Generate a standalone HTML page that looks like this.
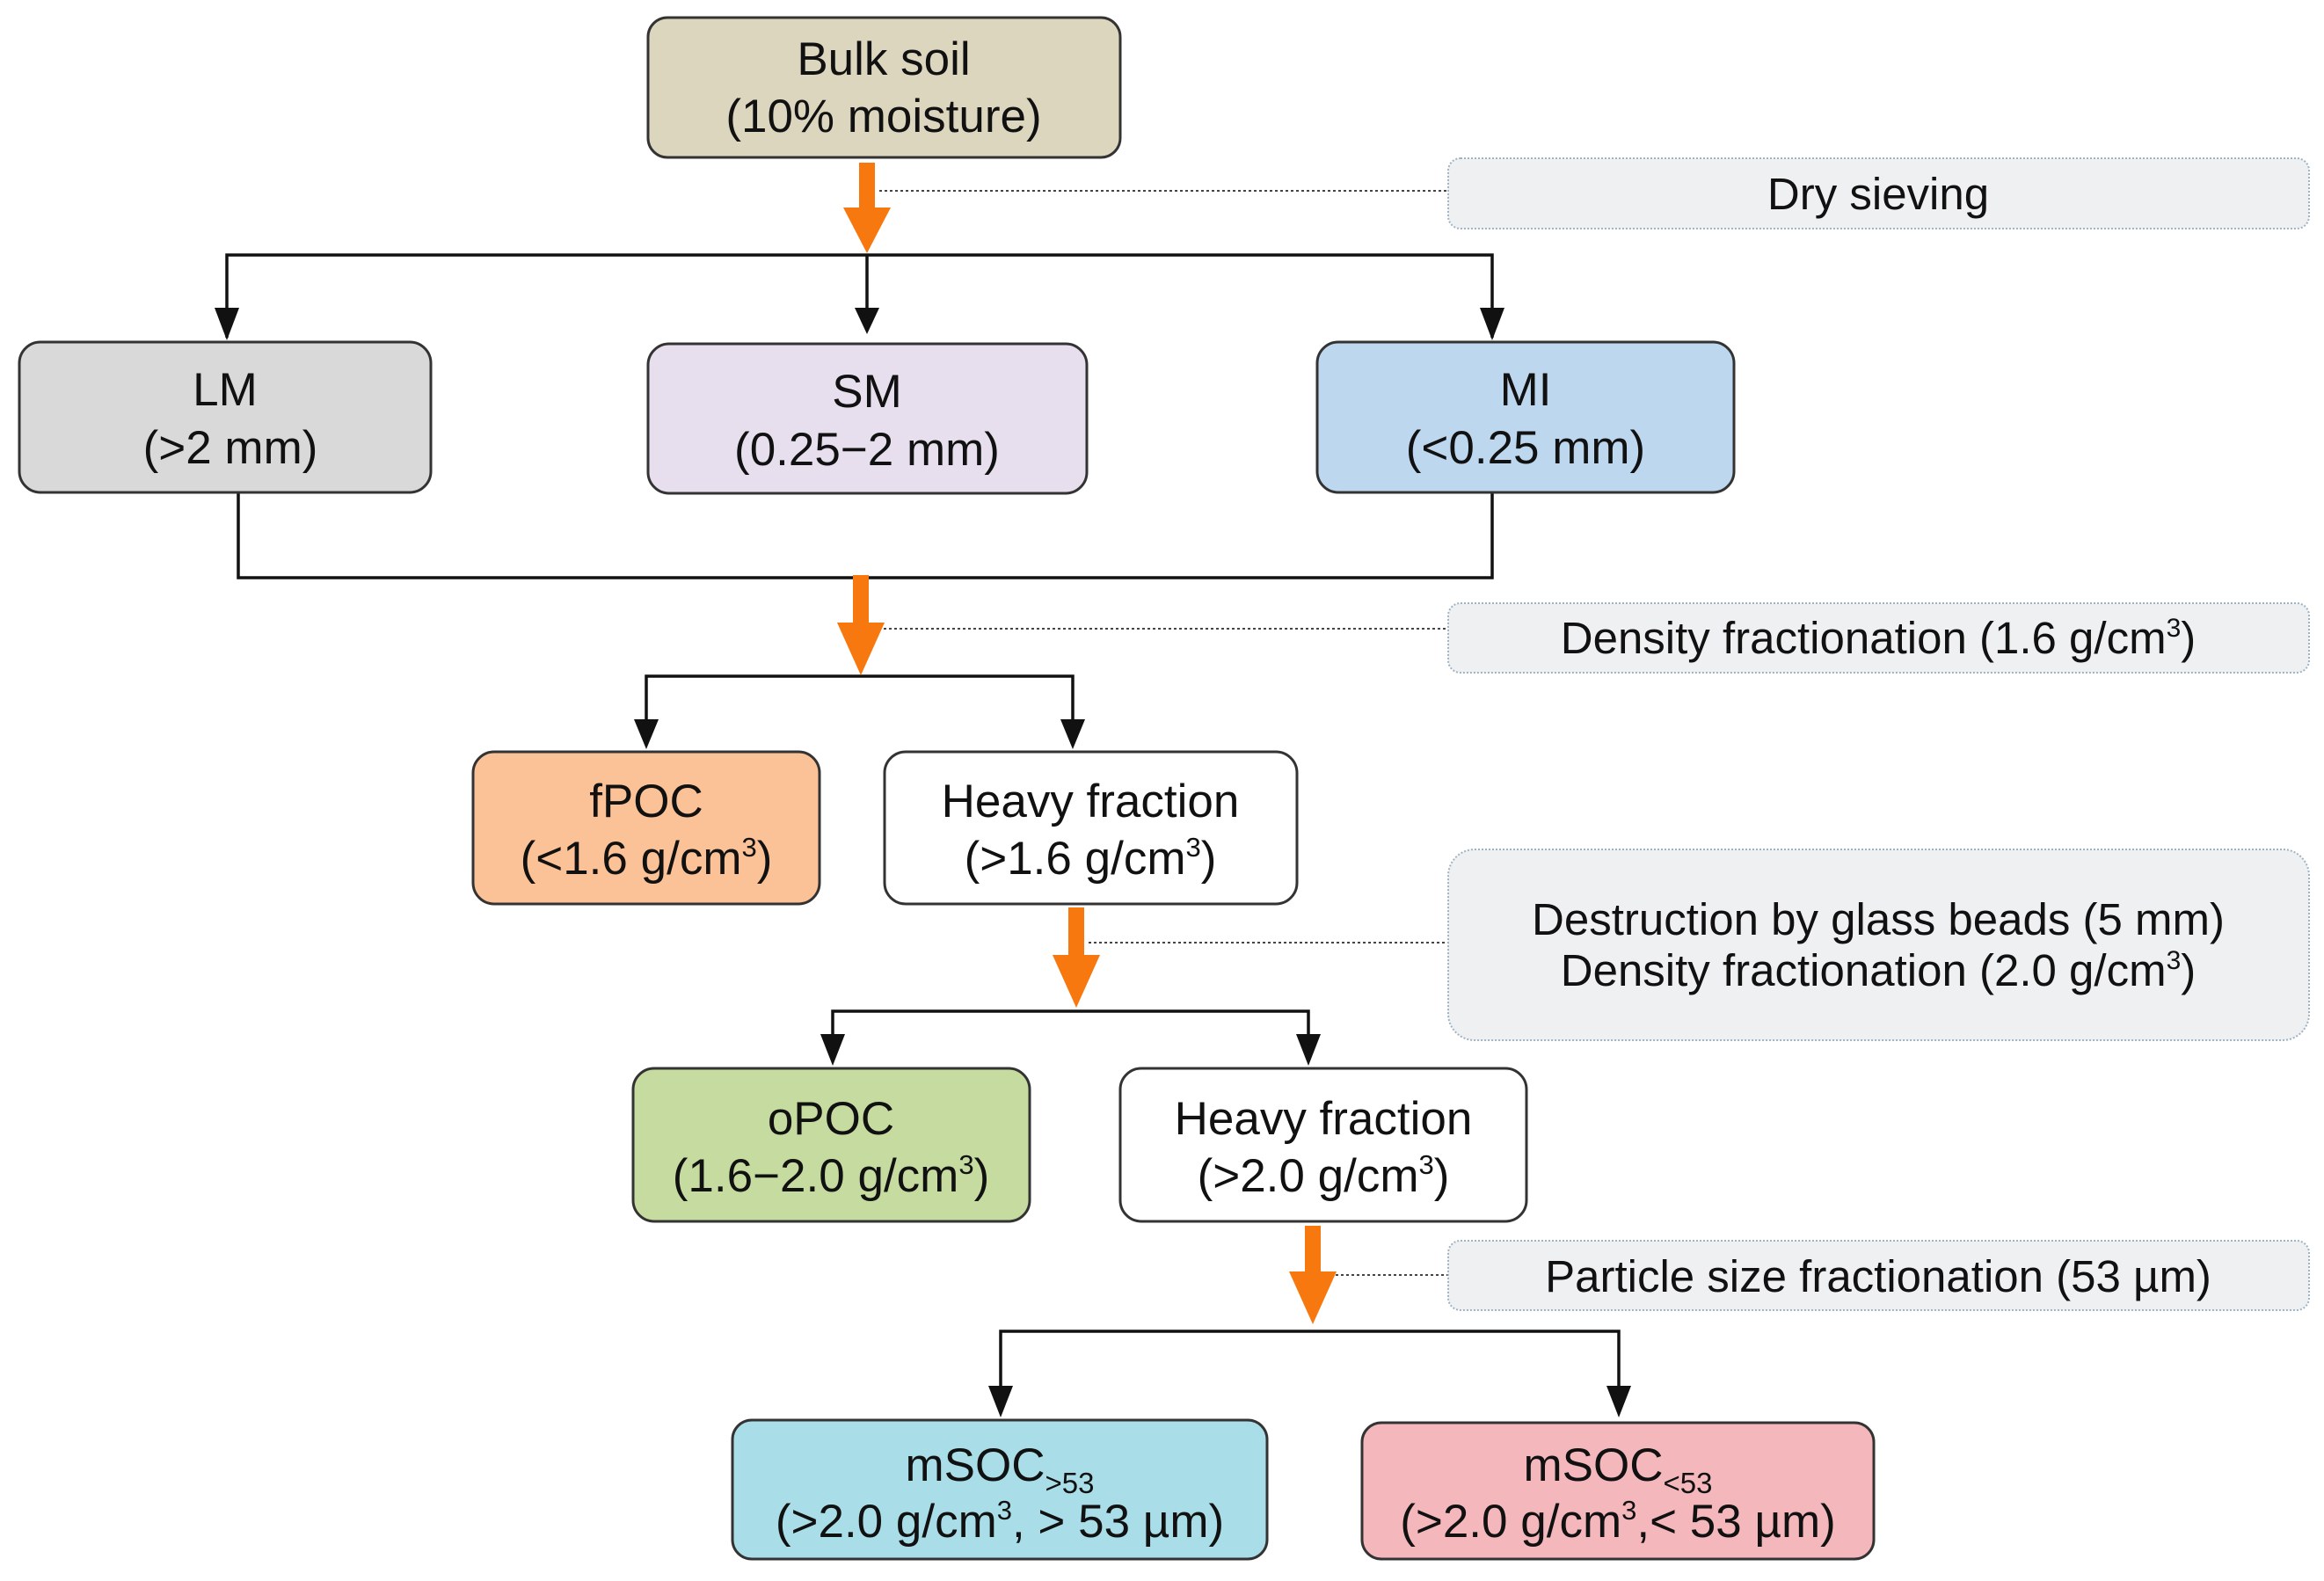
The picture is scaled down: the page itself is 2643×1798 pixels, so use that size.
<!DOCTYPE html>
<html><head><meta charset="utf-8"><style>
html,body{margin:0;padding:0;background:#fff;}
svg{display:block;}
text{font-family:"Liberation Sans",Arial,sans-serif;fill:#111;}
</style></head><body>
<svg width="2643" height="1798" viewBox="0 0 2643 1798" xmlns="http://www.w3.org/2000/svg">
<g stroke="#111" stroke-width="3.5" fill="none">
<polyline points="258,384 258,290 1697,290 1697,384"/>
<line x1="986" y1="290" x2="986" y2="375"/>
<polyline points="271,560 271,657 1697,657 1697,560"/>
<polyline points="735,845 735,769 1220,769 1220,845"/>
<polyline points="947,1205 947,1150 1488,1150 1488,1205"/>
<polyline points="1138,1605 1138,1514 1841,1514 1841,1605"/>
</g>
<g fill="#111">
<polygon points="244,350 272,350 258,387"/>
<polygon points="972,350 1000,350 986,380"/>
<polygon points="1683,350 1711,350 1697,387"/>
<polygon points="721,818 749,818 735,852"/>
<polygon points="1206,818 1234,818 1220,852"/>
<polygon points="933,1176 961,1176 947,1212"/>
<polygon points="1474,1176 1502,1176 1488,1212"/>
<polygon points="1124,1576 1152,1576 1138,1612"/>
<polygon points="1827,1576 1855,1576 1841,1612"/>
</g>
<g stroke="#444" stroke-width="2" stroke-dasharray="3,3">
<line x1="1000" y1="217" x2="1647" y2="217"/>
<line x1="993" y1="715" x2="1647" y2="715"/>
<line x1="1238" y1="1072" x2="1647" y2="1072"/>
<line x1="1507" y1="1450" x2="1647" y2="1450"/>
</g>
<g fill="#f7780f">
<rect x="977" y="185" width="18" height="60"/><polygon points="959,236 1013,236 986,288"/>
<rect x="970" y="654" width="18" height="62"/><polygon points="952,708 1006,708 979,768"/>
<rect x="1215" y="1032" width="18" height="60"/><polygon points="1197,1086 1251,1086 1224,1146"/>
<rect x="1484" y="1394" width="18" height="58"/><polygon points="1466,1446 1520,1446 1493,1506"/>
</g>
<g fill="#eef0f2" stroke="#9fb3c3" stroke-width="2" stroke-dasharray="2,2">
<rect x="1647" y="180" width="979" height="80" rx="14"/>
<rect x="1647" y="686" width="979" height="79" rx="14"/>
<rect x="1647" y="966" width="979" height="217" rx="30"/>
<rect x="1647" y="1411" width="979" height="79" rx="14"/>
</g>
<g font-size="51" text-anchor="middle">
<text x="2136" y="238">Dry sieving</text>
<text x="2136" y="743">Density fractionation (1.6 g/cm<tspan font-size="30" dy="-19">3</tspan><tspan dy="19">)</tspan></text>
<text x="2136" y="1063">Destruction by glass beads (5 mm)</text>
<text x="2136" y="1121">Density fractionation (2.0 g/cm<tspan font-size="30" dy="-19">3</tspan><tspan dy="19">)</tspan></text>
<text x="2136" y="1469">Particle size fractionation (53 µm)</text>
</g>
<g stroke="#333" stroke-width="3">
<rect x="737" y="20" width="537" height="159" rx="22" fill="#dcd6bf"/>
<rect x="22" y="389" width="468" height="171" rx="24" fill="#d9d9d9"/>
<rect x="737" y="391" width="499" height="170" rx="24" fill="#e7dfee"/>
<rect x="1498" y="389" width="474" height="171" rx="24" fill="#bdd7ee"/>
<rect x="538" y="855" width="394" height="173" rx="24" fill="#fcc297"/>
<rect x="1006" y="855" width="469" height="173" rx="24" fill="#ffffff"/>
<rect x="720" y="1215" width="451" height="174" rx="24" fill="#c5dba0"/>
<rect x="1274" y="1215" width="462" height="174" rx="24" fill="#ffffff"/>
<rect x="833" y="1615" width="608" height="158" rx="22" fill="#a9dde8"/>
<rect x="1549" y="1618" width="582" height="155" rx="22" fill="#f4b8bc"/>
</g>
<g font-size="53" text-anchor="middle">
<text x="1005" y="85">Bulk soil</text>
<text x="1005" y="150">(10% moisture)</text>
<text x="256" y="461">LM</text>
<text x="262" y="527">(&gt;2 mm)</text>
<text x="986" y="463">SM</text>
<text x="986" y="529">(0.25−2 mm)</text>
<text x="1735" y="461">MI</text>
<text x="1735" y="527">(&lt;0.25 mm)</text>
<text x="735" y="929">fPOC</text>
<text x="735" y="994">(&lt;1.6 g/cm<tspan font-size="31" dy="-20">3</tspan><tspan dy="20">)</tspan></text>
<text x="1240" y="929">Heavy fraction</text>
<text x="1240" y="994">(&gt;1.6 g/cm<tspan font-size="31" dy="-20">3</tspan><tspan dy="20">)</tspan></text>
<text x="945" y="1290">oPOC</text>
<text x="945" y="1355">(1.6−2.0 g/cm<tspan font-size="31" dy="-20">3</tspan><tspan dy="20">)</tspan></text>
<text x="1505" y="1290">Heavy fraction</text>
<text x="1505" y="1355">(&gt;2.0 g/cm<tspan font-size="31" dy="-20">3</tspan><tspan dy="20">)</tspan></text>
<text x="1137" y="1684">mSOC<tspan font-size="33" dy="14">&gt;53</tspan></text>
<text x="1137" y="1748">(&gt;2.0 g/cm<tspan font-size="31" dy="-20">3</tspan><tspan dy="20">, &gt; 53 µm)</tspan></text>
<text x="1840" y="1684">mSOC<tspan font-size="33" dy="14">&lt;53</tspan></text>
<text x="1840" y="1748">(&gt;2.0 g/cm<tspan font-size="31" dy="-20">3</tspan><tspan dy="20">,&lt; 53 µm)</tspan></text>
</g>
</svg>
</body></html>
